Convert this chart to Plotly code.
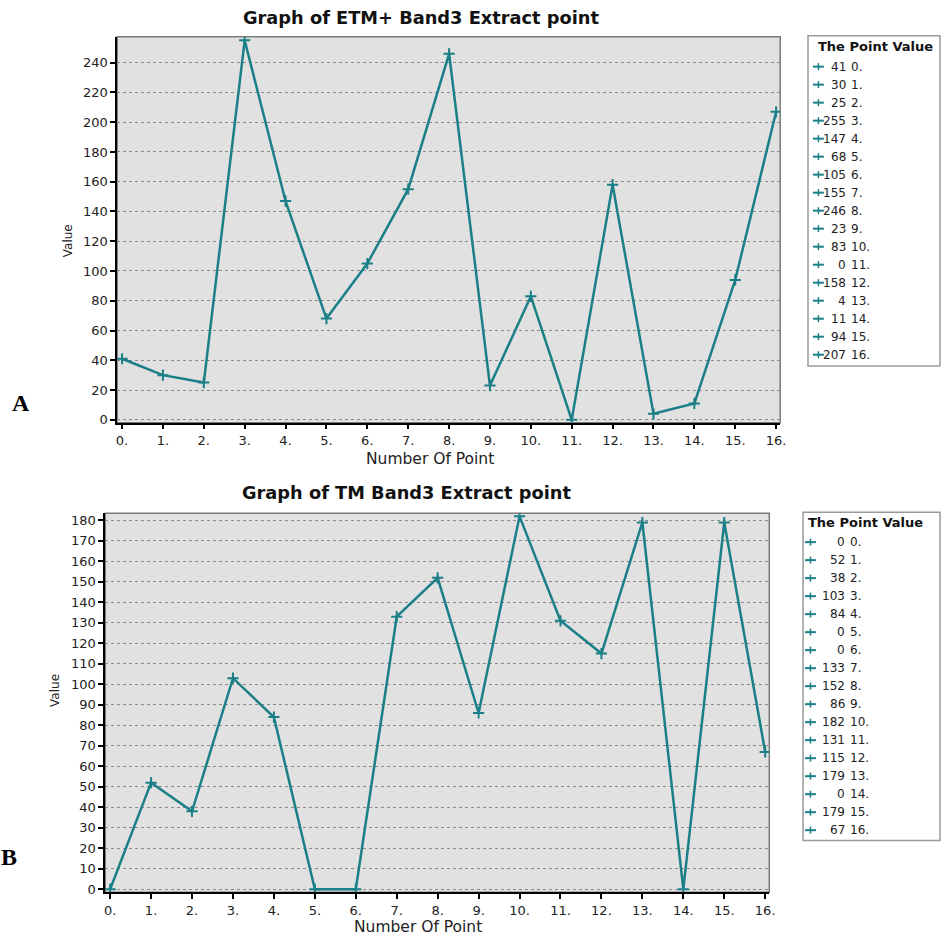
import plotly.graph_objects as go

points = list(range(17))
x_labels = [f"{i}." for i in points]
etm_values = [41, 30, 25, 255, 147, 68, 105, 155, 246, 23, 83, 0, 158, 4, 11, 94, 207]
tm_values = [0, 52, 38, 103, 84, 0, 0, 133, 152, 86, 182, 131, 115, 179, 0, 179, 67]
title_a = "Graph of ETM+ Band3 Extract point"
title_b = "Graph of TM Band3 Extract point"
legend_title = "The Point Value"

W, H = 949, 944
LINE = "#1b7f87"
FONT = "DejaVu Sans, Verdana, sans-serif"
SERIF = "Liberation Serif, Times New Roman, serif"

def px(x):
    return x / W

def py(y):
    return 1 - y / H

fig = go.Figure()

for vals, xa, ya in [(etm_values, "x", "y"), (tm_values, "x2", "y2")]:
    fig.add_trace(go.Scatter(x=points, y=vals, mode="lines+markers", xaxis=xa, yaxis=ya,
                             line=dict(color=LINE, width=2.5),
                             marker=dict(symbol="cross-thin", size=8, line=dict(color=LINE, width=2)),
                             showlegend=False))

panels = [
    dict(box=(117, 785, 37, 425), yr=[-2, 257.4], dt=20, ymax=240),
    dict(box=(105, 774, 516, 897), yr=[-1.5, 183.5], dt=10, ymax=180),
]

axis_common = dict(showline=True, linecolor="black", linewidth=1.5, ticks="outside", ticklen=5,
                   tickcolor="black", tickwidth=1.5, tickfont=dict(family=FONT, size=13, color="#222"),
                   zeroline=False)

shapes = []
annotations = []

for k, p in enumerate(panels):
    l, r, t, b = p["box"]
    xs = "" if k == 0 else "2"
    fig.layout[f"xaxis{xs}"] = dict(
        domain=[px(l), px(r)], anchor=f"y{xs}", range=[-0.12, 16.1],
        tickvals=points, ticktext=x_labels, showgrid=False, **axis_common)
    fig.layout[f"yaxis{xs}"] = dict(
        domain=[py(b), py(t)], anchor=f"x{xs}", range=p["yr"],
        tickmode="array", tickvals=list(range(0, p["ymax"] + 1, p["dt"])),
        showgrid=True, gridcolor="#8a8a8a", gridwidth=1, griddash="dot", **axis_common)
    shapes.append(dict(type="rect", xref="paper", yref="paper", x0=px(l), x1=px(r), y0=py(b), y1=py(t),
                       line=dict(color="#7a7a7a", width=1.5), fillcolor="#e1e1e1", layer="below"))


def ann(text, x, y, size, xanchor="center", family=FONT, color="#222", angle=0):
    return dict(text=text, x=px(x), y=py(y), xref="paper", yref="paper", showarrow=False,
                xanchor=xanchor, yanchor="middle", textangle=angle,
                font=dict(family=family, size=size, color=color))


annotations += [
    ann(f"<b>{title_a}</b>", 423, 18, 17.8, color="#111"),
    ann(f"<b>{title_b}</b>", 409, 495, 17.8, color="#111"),
    ann("Number Of Point", 432, 461, 15.5),
    ann("Number Of Point", 420, 932, 15.5),
    ann("Value", 67, 242, 12, angle=-90),
    ann("Value", 55, 694, 12, angle=-90),
    ann("<b>A</b>", 20, 405, 24, family=SERIF, color="black"),
    ann("<b>B</b>", 8, 862, 24, family=SERIF, color="black"),
]

legends = [
    dict(vals=etm_values, box=(813, 946, 36, 368), title_x=821, title_y=47, row0=67, mk=(818, 829), num_r=853),
    dict(vals=tm_values, box=(808, 946, 515, 845), title_x=811, title_y=525, row0=545, mk=(810, 821), num_r=852),
]
for lg in legends:
    l, r, t, b = lg["box"]
    shapes.append(dict(type="rect", xref="paper", yref="paper", x0=px(l), x1=px(r), y0=py(b), y1=py(t),
                       line=dict(color="#9a9a9a", width=1.5), fillcolor="white", layer="below"))
    annotations.append(ann(f"<b>{legend_title}</b>", lg["title_x"], lg["title_y"], 13,
                           xanchor="left", color="#111"))
    m0, m1 = lg["mk"]
    for i, v in enumerate(lg["vals"]):
        yy = lg["row0"] + i * 18.1
        shapes.append(dict(type="line", xref="paper", yref="paper", x0=px(m0), x1=px(m1), y0=py(yy), y1=py(yy),
                           line=dict(color=LINE, width=2)))
        mid = (m0 + m1) / 2
        shapes.append(dict(type="line", xref="paper", yref="paper", x0=px(mid), x1=px(mid),
                           y0=py(yy - 3.5), y1=py(yy + 3.5), line=dict(color=LINE, width=1.5)))
        annotations.append(ann(str(v), lg["num_r"], yy, 12, xanchor="right"))
        annotations.append(ann(x_labels[i], lg["num_r"] + 1, yy, 12, xanchor="left"))

fig.update_layout(width=W, height=H, margin=dict(l=0, r=0, t=0, b=0),
                  paper_bgcolor="white", plot_bgcolor="rgba(0,0,0,0)",
                  shapes=shapes, annotations=annotations, showlegend=False)

fig.write_html("out.html")
